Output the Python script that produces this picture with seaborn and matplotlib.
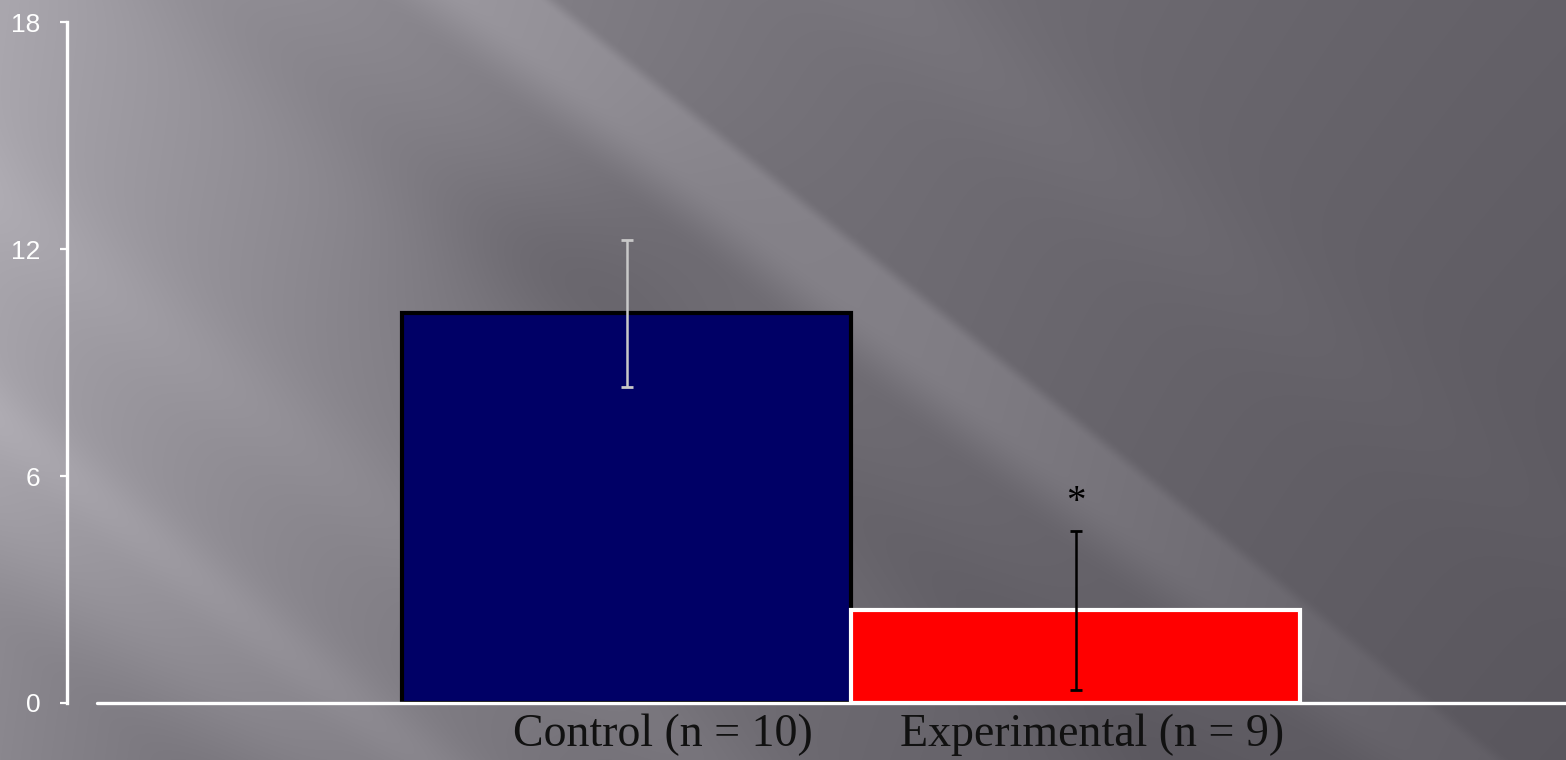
import numpy as np
import pandas as pd
import matplotlib
matplotlib.use("Agg")
import matplotlib.pyplot as plt
import matplotlib.transforms as mtransforms
import seaborn as sns

# ---- data -------------------------------------------------------------
groups = ["Control (n = 10)", "Experimental (n = 9)"]
means = [10.3, 2.45]
errors = [1.95, 2.1]
bar_colors = ["#000066", "#ff0000"]
edge_colors = ["#000000", "#ffffff"]
err_colors = ["#c8c8c8", "#000000"]
y_ticks = [0, 6, 12, 18]
marker_text = "*"

df = pd.DataFrame({"group": groups, "mean": means})

# ---- figure -------------------------------------------------------------
W, H = 1566, 760
sns.set_theme(style="white")
plt.rcParams["font.family"] = ["Liberation Sans", "DejaVu Sans"]
fig = plt.figure(figsize=(W / 100, H / 100), dpi=100)


def smoothstep(a, b, t):
    u = np.clip((t - a) / (b - a), 0, 1)
    return u * u * (3 - 2 * u)


# gray backdrop: light at the left, dark at the right, with diagonal streaks
xx, yy = np.meshgrid(np.arange(W, dtype=float), np.arange(H, dtype=float))
s = yy - 0.8 * xx
v = 88 + 82 * np.exp(-xx / 800.0) - 10 * yy / H
fade = 1 - 0.6 * smoothstep(900, 1500, xx)
band_a = smoothstep(-450, -430, s) * (1 - smoothstep(-380, -300, s))
v += 20 * band_a * fade
# soft shadow around the top of the tall bar
v -= 12 * np.exp(-(((xx - 580) / 180.0) ** 2 + ((yy - 270) / 120.0) ** 2))
v -= 6 * np.exp(-((s + 170) / 70.0) ** 2)
v += 7 * np.exp(-((s - 200) / 60.0) ** 2)
v += 10 * np.exp(-((s - 420) / 40.0) ** 2)
v -= 22 * smoothstep(480, 640, s)
v += 6 * np.exp(-((s + 720) / 70.0) ** 2) * fade
rgb = np.stack([v, v - 3, v + 4], axis=-1)
rgb = np.clip(rgb, 0, 255) / 255.0

bg = fig.add_axes([0, 0, 1, 1], zorder=-10)
bg.imshow(rgb, aspect="auto", interpolation="bilinear", origin="upper")
bg.set_axis_off()

# plotting area
left_px, bottom_px, top_px = 67, 703, 22
ax = fig.add_axes([left_px / W, (H - bottom_px) / H,
                   (W - left_px) / W, (bottom_px - top_px) / H])
ax.set_facecolor("none")

sns.barplot(data=df, x="group", y="mean", hue="group", palette=bar_colors,
            saturation=1, width=1.0, legend=False, errorbar=None, ax=ax,
            zorder=2)
for patch, ec in zip(ax.patches, edge_colors):
    patch.set_edgecolor(ec)
    patch.set_linewidth(3)

for i, (m, e, c) in enumerate(zip(means, errors, err_colors)):
    ax.errorbar(i, m, yerr=e, color=c, elinewidth=1.8, capsize=4.5,
                capthick=2.0, zorder=4)

ax.text(1, means[1] + errors[1] + 0.25, marker_text, ha="center", va="bottom",
        fontsize=28, color="black", family=["Liberation Serif", "DejaVu Serif"])

ax.set_ylim(0, 18)
ax.set_xlim(-1.247, 2.092)
ax.set_yticks(y_ticks)
ax.set_yticklabels([str(t) for t in y_ticks])
ax.set_xlabel("")
ax.set_ylabel("")

for side in ["top", "right", "bottom"]:
    ax.spines[side].set_visible(False)
ax.spines["left"].set_color("white")
ax.spines["left"].set_linewidth(2.4)
ax.axhline(0, xmin=30 / (W - left_px), xmax=1, color="white", lw=2.4,
           zorder=5, clip_on=False)

ax.tick_params(axis="y", colors="white", length=5, width=1.6, pad=14,
               labelsize=19, left=True)
ax.tick_params(axis="x", length=0, pad=7.5)
ax.set_xticks([0, 1])
ax.set_xticklabels(groups, fontsize=33, color="#111111",
                   family=["Liberation Serif", "DejaVu Serif"])
for lab, dx in zip(ax.get_xticklabels(), [36, 16]):
    lab.set_transform(lab.get_transform() +
                      mtransforms.ScaledTranslation(dx / 100, 0, fig.dpi_scale_trans))

fig.savefig("out.png", dpi=100)
